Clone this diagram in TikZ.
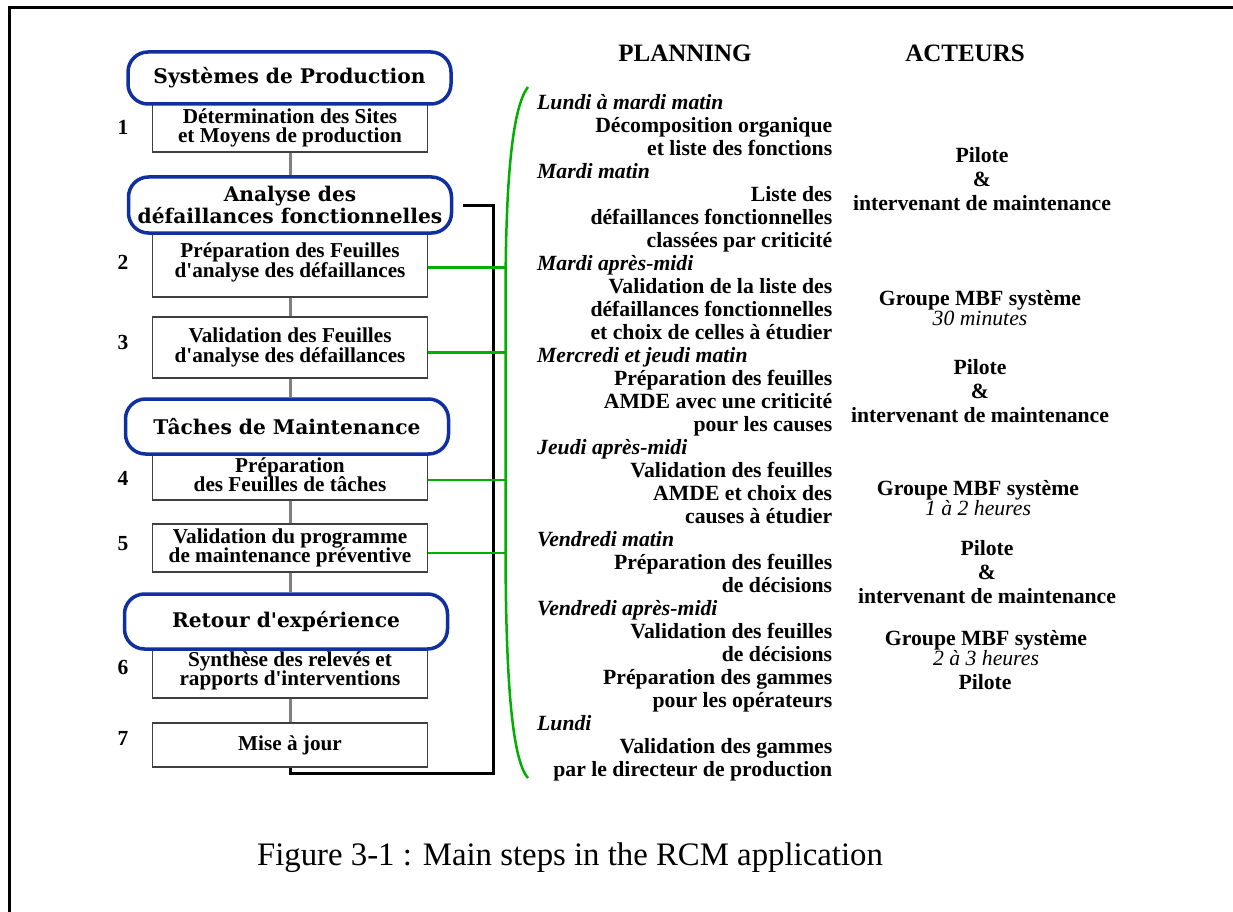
\documentclass[tikz,border=0pt]{standalone}
\usepackage{fontspec}
\setmainfont{Liberation Serif}
\newfontfamily\phaseFont{DejaVu Serif}
\usepackage{tikz}
\usetikzlibrary{positioning}
\tikzstyle{page} = [x = 1pt, y = -1pt]
\definecolor{phaseColor}{RGB}{16,48,160}
\definecolor{planColor}{RGB}{0,176,0}
\definecolor{linkColor}{RGB}{128,128,128}
\tikzstyle{frameLine} = [draw=black, line width=3pt]
\tikzstyle{phaseStyle} = [draw=phaseColor, fill=white, line width=3.5pt, rounded corners=20pt, minimum width=323pt, align=center, inner sep=0pt, font=\phaseFont\bfseries\fontsize{20.2}{20}\selectfont]
\tikzstyle{stepStyle} = [draw=black!75, fill=white, line width=1.5pt, minimum width=275pt, align=center, inner sep=0pt, font=\bfseries\fontsize{21.2}{19.5}\selectfont]
\tikzstyle{stepNumber} = [inner sep=0pt, font=\bfseries\fontsize{21.5}{21.5}\selectfont]
\tikzstyle{linkLine} = [draw=linkColor, line width=3pt]
\tikzstyle{planLine} = [draw=planColor, line width=2.5pt]
\tikzstyle{loopLine} = [draw=black, line width=3pt]
\tikzstyle{headText} = [inner sep=0pt, font=\bfseries\fontsize{25}{25}\selectfont]
\tikzstyle{planText} = [align=left, inner sep=0pt, font=\bfseries\fontsize{21.7}{23}\selectfont]
\tikzstyle{actorText} = [align=center, inner sep=0pt, font=\bfseries\fontsize{21.7}{24}\selectfont]
\tikzstyle{groupText} = [align=center, inner sep=0pt, font=\bfseries\fontsize{21.7}{20}\selectfont]
\tikzstyle{captionText} = [inner sep=0pt, font=\fontsize{32.8}{34}\selectfont]
\newcommand{\apos}{\textquotesingle}
\newcommand{\stepBox}[6]{\node [stepStyle, minimum height=#3] (#1) at (290, #2) {#6}; \node [stepNumber] (#1Num) at (123, #4) {#5};}
\newcommand{\phaseBox}[5]{\node [phaseStyle, minimum height=#4] (#1) at (#2, #3) {#5};}
\newcommand{\stepLink}[2]{\draw [linkLine] (#1.south) -- (#1.south |- #2.north);}
\newcommand{\planLink}[1]{\draw [planLine] (#1.358) -- (#1.358 -| braceLine);}
\newcommand{\dayLine}[1]{\makebox[295pt][l]{\itshape #1}}
\newcommand{\taskLine}[1]{\makebox[295pt][r]{#1}}

\begin{document}
\begin{tikzpicture}[page]
  \useasboundingbox (0,0) rectangle (1233,912);
  \coordinate (frameLow) at (9,912);
  \coordinate (frameHigh) at (1233,8);
  \draw [frameLine] (frameLow) |- (frameHigh);

  \stepBox{stepOne}{128}{48pt}{127}{1}{Détermination des Sites\\ et Moyens de production}
  \stepBox{stepTwo}{262.5}{69pt}{262}{2}{Préparation des Feuilles\\ d\apos analyse des défaillances}
  \stepBox{stepThree}{347.5}{61pt}{342}{3}{Validation des Feuilles\\ d\apos analyse des défaillances}
  \stepBox{stepFour}{475}{50pt}{478}{4}{\fontsize{21.2}{22}\selectfont Préparation\\ des Feuilles de tâches}
  \stepBox{stepFive}{548}{48pt}{544}{5}{Validation du programme\\ de maintenance préventive}
  \stepBox{stepSix}{671}{54pt}{667}{6}{Synthèse des relevés et\\ rapports d\apos interventions}
  \stepBox{stepSeven}{745}{44pt}{738}{7}{Mise à jour}

  \phaseBox{phaseOne}{289.5}{78}{52pt}{Systèmes de Production}
  \phaseBox{phaseTwo}{290}{205}{56pt}{Analyse des\\ défaillances fonctionnelles}
  \phaseBox{phaseThree}{287}{426.5}{55pt}{Tâches de Maintenance}
  \phaseBox{phaseFour}{286}{621.5}{55pt}{Retour d\apos expérience}

  \stepLink{stepOne}{phaseTwo}
  \stepLink{stepTwo}{stepThree}
  \stepLink{stepThree}{phaseThree}
  \stepLink{stepFour}{stepFive}
  \stepLink{stepFive}{phaseFour}
  \stepLink{stepSix}{stepSeven}

  \coordinate (loopCorner) at (493,773);
  \draw [loopLine] ([xshift=10pt]phaseTwo.east) -| (loopCorner) -| (stepSeven.south);

  \coordinate (braceTop) at (528,87);
  \coordinate (braceBottom) at (528,778);
  \coordinate (braceLine) at (505.5,0);
  \draw [planLine] (braceTop) .. controls (510,110) and (505.5,200) .. (505.5,300) -- (505.5,540) .. controls (505.5,680) and (512,760) .. (braceBottom);
  \planLink{stepTwo}
  \planLink{stepThree}
  \planLink{stepFour}
  \planLink{stepFive}

  \node [headText] (planHead) at (685,53) {PLANNING};
  \node [headText] (actorHead) at (965,53) {ACTEURS};

  \node [planText, anchor=north west] (planning) at (537,94) {
    \dayLine{Lundi à mardi matin}\\
    \taskLine{Décomposition organique}\\
    \taskLine{et liste des fonctions}\\
    \dayLine{Mardi matin}\\
    \taskLine{Liste des}\\
    \taskLine{défaillances fonctionnelles}\\
    \taskLine{classées par criticité}\\
    \dayLine{Mardi après-midi}\\
    \taskLine{Validation de la liste des}\\
    \taskLine{défaillances fonctionnelles}\\
    \taskLine{et choix de celles à étudier}\\
    \dayLine{Mercredi et jeudi matin}\\
    \taskLine{Préparation des feuilles}\\
    \taskLine{AMDE avec une criticité}\\
    \taskLine{pour les causes}\\
    \dayLine{Jeudi après-midi}\\
    \taskLine{Validation des feuilles}\\
    \taskLine{AMDE et choix des}\\
    \taskLine{causes à étudier}\\
    \dayLine{Vendredi matin}\\
    \taskLine{Préparation des feuilles}\\
    \taskLine{de décisions}\\
    \dayLine{Vendredi après-midi}\\
    \taskLine{Validation des feuilles}\\
    \taskLine{de décisions}\\
    \taskLine{Préparation des gammes}\\
    \taskLine{pour les opérateurs}\\
    \dayLine{Lundi}\\
    \taskLine{Validation des gammes}\\
    \taskLine{par le directeur de production}};

  \node [actorText] (pilotOne) at (982,179) {Pilote\\ \&\\ intervenant de maintenance};
  \node [groupText] (groupOne) at (980,308) {Groupe MBF système\\ {\mdseries\itshape 30 minutes}};
  \node [actorText] (pilotTwo) at (980,391) {Pilote\\ \&\\ intervenant de maintenance};
  \node [groupText] (groupTwo) at (978,498) {Groupe MBF système\\ {\mdseries\itshape 1 à 2 heures}};
  \node [actorText] (pilotThree) at (987,572) {Pilote\\ \&\\ intervenant de maintenance};
  \node [groupText] (groupThree) at (986,648) {Groupe MBF système\\ {\mdseries\itshape 2 à 3 heures}};
  \node [actorText] (pilotFour) at (985,682) {Pilote};

  \node [captionText] (caption) at (570,858) {Figure 3-1 : Main steps in the RCM application};
\end{tikzpicture}
\end{document}
